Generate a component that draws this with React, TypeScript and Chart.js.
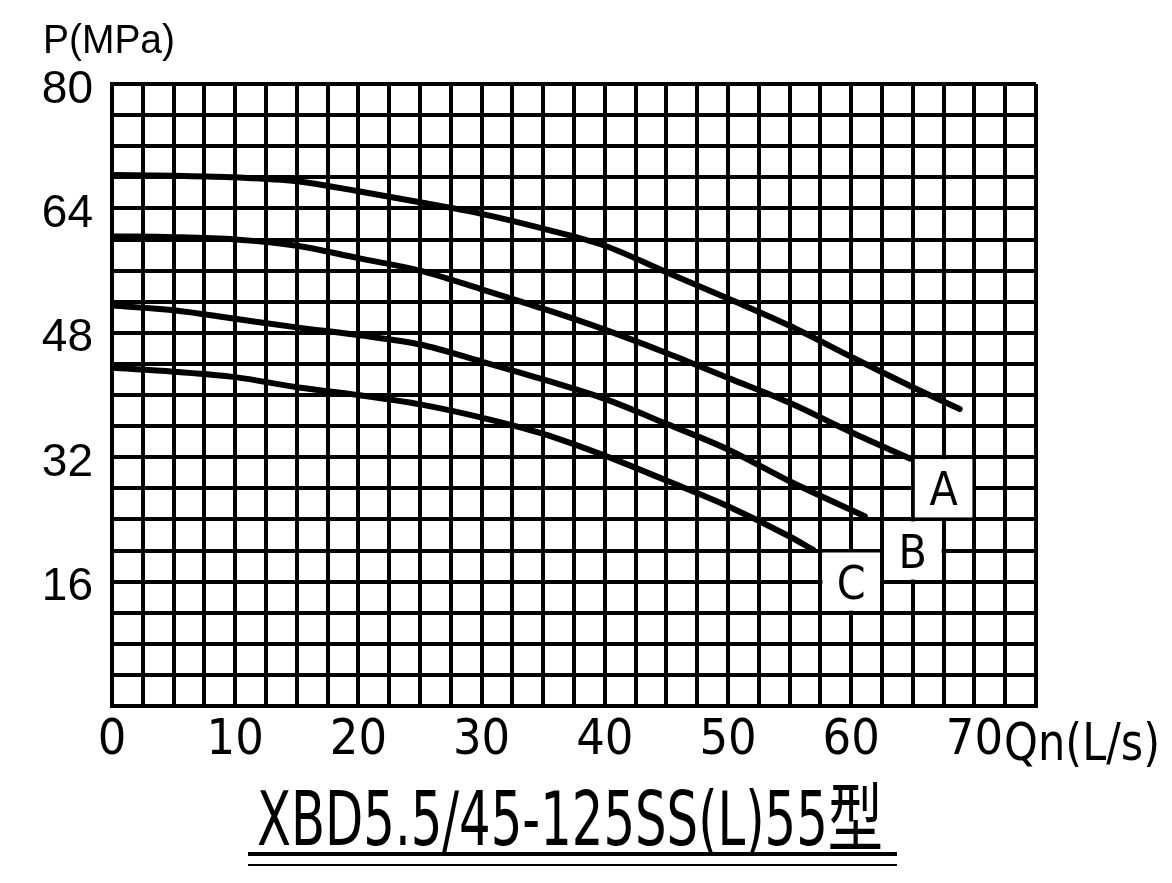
import React, { useEffect, useRef } from 'react';
import { Chart, registerables } from 'chart.js';

Chart.register(...registerables);

// ---- data ----
const flowA = [0, 5, 10, 15, 20, 25, 30, 35, 40, 45, 50, 55, 60, 65, 68.8];
const presA = [68.3, 68.2, 68.0, 67.5, 66.2, 64.8, 63.3, 61.4, 59.2, 55.8, 52.4, 48.9, 44.9, 41.0, 38.2];
const flowB = [0, 5, 10, 15, 20, 25, 30, 35, 40, 45, 50, 55, 60, 64.8];
const presB = [60.4, 60.3, 60.0, 59.2, 57.6, 56.0, 53.6, 51.1, 48.4, 45.4, 42.2, 39.0, 35.2, 31.8];
const flowC = [0, 5, 10, 15, 20, 25, 30, 35, 40, 45, 50, 55, 61.1];
const presC = [51.5, 50.9, 49.8, 48.7, 47.7, 46.5, 44.3, 42.0, 39.5, 36.3, 33.0, 28.9, 24.4];
const flowD = [0, 5, 10, 15, 20, 25, 30, 35, 40, 45, 50, 55, 56.9];
const presD = [43.5, 43.0, 42.3, 41.0, 40.0, 38.8, 37.1, 35.0, 32.2, 29.0, 25.7, 21.8, 20.1];

const xTickLabels = [0, 10, 20, 30, 40, 50, 60, 70];
const yTickLabels = [16, 32, 48, 64, 80];

const curveLabels = ['A', 'B', 'C'];
const labelBoxQ = [[65, 70], [62.5, 67.5], [57.5, 62.5]];
const labelBoxP = [[24, 32], [16, 24], [12, 20]];

const titleText = 'XBD5.5/45-125SS(L)55型';
const yAxisTitle = 'P(MPa)';
const xAxisTitle = 'Qn(L/s)';

const X_MAX = 75;
const Y_MAX = 80;
const X_STEP = 2.5;
const Y_STEP = 4;

const NARROW = '"Liberation Sans Narrow", "DejaVu Sans Condensed", "Liberation Sans", sans-serif';
const SANS = '"Liberation Sans", Arial, sans-serif';
const TITLE_FONT = '"Liberation Sans Narrow", "DejaVu Sans Condensed", "Liberation Sans", "Noto Sans CJK SC", sans-serif';

function fitText(ctx: CanvasRenderingContext2D, text: string, left: number, baseline: number, width: number, font: string) {
  ctx.save();
  ctx.font = font;
  ctx.textAlign = 'left';
  ctx.textBaseline = 'alphabetic';
  const w = ctx.measureText(text).width;
  ctx.translate(left, baseline);
  ctx.scale(width / w, 1);
  ctx.fillStyle = '#000';
  ctx.fillText(text, 0, 0);
  ctx.restore();
}

const labelBoxPlugin = {
  id: 'labelBoxes',
  beforeDatasetsDraw(chart: any) {
    const { ctx, scales } = chart;
    const xs = scales.x;
    const ys = scales.y;
    ctx.save();
    curveLabels.forEach((lab, i) => {
      const x1 = xs.getPixelForValue(labelBoxQ[i][0]);
      const x2 = xs.getPixelForValue(labelBoxQ[i][1]);
      const y1 = ys.getPixelForValue(labelBoxP[i][1]);
      const y2 = ys.getPixelForValue(labelBoxP[i][0]);
      ctx.fillStyle = '#fff';
      ctx.fillRect(x1 + 2, y1 + 2, x2 - x1 - 4, y2 - y1 - 4);
      ctx.fillStyle = '#000';
      ctx.font = `46px ${NARROW}`;
      ctx.textAlign = 'center';
      ctx.textBaseline = 'alphabetic';
      ctx.fillText(lab, (x1 + x2) / 2, (y1 + y2) / 2 + 17);
    });
    ctx.restore();
  },
};

const textPlugin = {
  id: 'extraTexts',
  afterDraw(chart: any) {
    const { ctx } = chart;
    fitText(ctx, yAxisTitle, 43, 53, 132, `41px ${SANS}`);
    fitText(ctx, xAxisTitle, 1004, 760, 156, `52px ${NARROW}`);
    fitText(ctx, titleText, 257, 845, 626, `75px ${TITLE_FONT}`);
    ctx.save();
    ctx.fillStyle = '#000';
    ctx.fillRect(248, 852, 649, 4);
    ctx.fillRect(248, 864, 649, 2);
    ctx.restore();
  },
};

const toPoints = (xs: number[], ys: number[]) => xs.map((x, i) => ({ x, y: ys[i] }));

export default function App() {
  const canvasRef = useRef<HTMLCanvasElement | null>(null);

  useEffect(() => {
    if (!canvasRef.current) return;
    const lineStyle = {
      borderColor: '#000',
      backgroundColor: '#000',
      borderWidth: 6,
      pointRadius: 0,
      fill: false,
      cubicInterpolationMode: 'monotone' as const,
      borderCapStyle: 'round' as const,
    };
    const chart = new Chart(canvasRef.current, {
      type: 'line',
      data: {
        datasets: [
          { ...lineStyle, data: toPoints(flowA, presA) },
          { ...lineStyle, data: toPoints(flowB, presB) },
          { ...lineStyle, data: toPoints(flowC, presC) },
          { ...lineStyle, data: toPoints(flowD, presD) },
        ],
      },
      options: {
        animation: false,
        responsive: false,
        maintainAspectRatio: false,
        layout: { padding: { left: 0, top: 84, right: 136, bottom: 0 } },
        plugins: {
          legend: { display: false },
          tooltip: { enabled: false },
          title: { display: false },
        },
        scales: {
          x: {
            type: 'linear',
            position: 'bottom',
            min: 0,
            max: X_MAX,
            afterFit: (s: any) => {
              s.height = 177;
            },
            ticks: {
              stepSize: X_STEP,
              autoSkip: false,
              maxTicksLimit: 200,
              maxRotation: 0,
              minRotation: 0,
              padding: 5,
              color: '#000',
              font: { family: NARROW, size: 50 },
              callback: (v: any) => (xTickLabels.includes(Number(v)) ? String(v) : ''),
            },
            grid: { color: '#000', lineWidth: 4, drawTicks: false },
            border: { display: true, color: '#000', width: 4 },
          },
          y: {
            type: 'linear',
            position: 'left',
            min: 0,
            max: Y_MAX,
            afterFit: (s: any) => {
              s.width = 112;
            },
            ticks: {
              stepSize: Y_STEP,
              autoSkip: false,
              maxTicksLimit: 200,
              padding: 19,
              labelOffset: 6,
              color: '#000',
              font: { family: SANS, size: 46 },
              callback: (v: any) => (yTickLabels.includes(Number(v)) ? String(v) : ''),
            },
            grid: { color: '#000', lineWidth: 4, drawTicks: false },
            border: { display: true, color: '#000', width: 4 },
          },
        },
      } as any,
      plugins: [labelBoxPlugin, textPlugin],
    });
    return () => chart.destroy();
  }, []);

  return (
    <div style={{ position: 'absolute', left: 0, top: 0, width: 1172, height: 883, background: '#fff' }}>
      <canvas ref={canvasRef} width={1172} height={883} style={{ display: 'block' }} />
    </div>
  );
}
